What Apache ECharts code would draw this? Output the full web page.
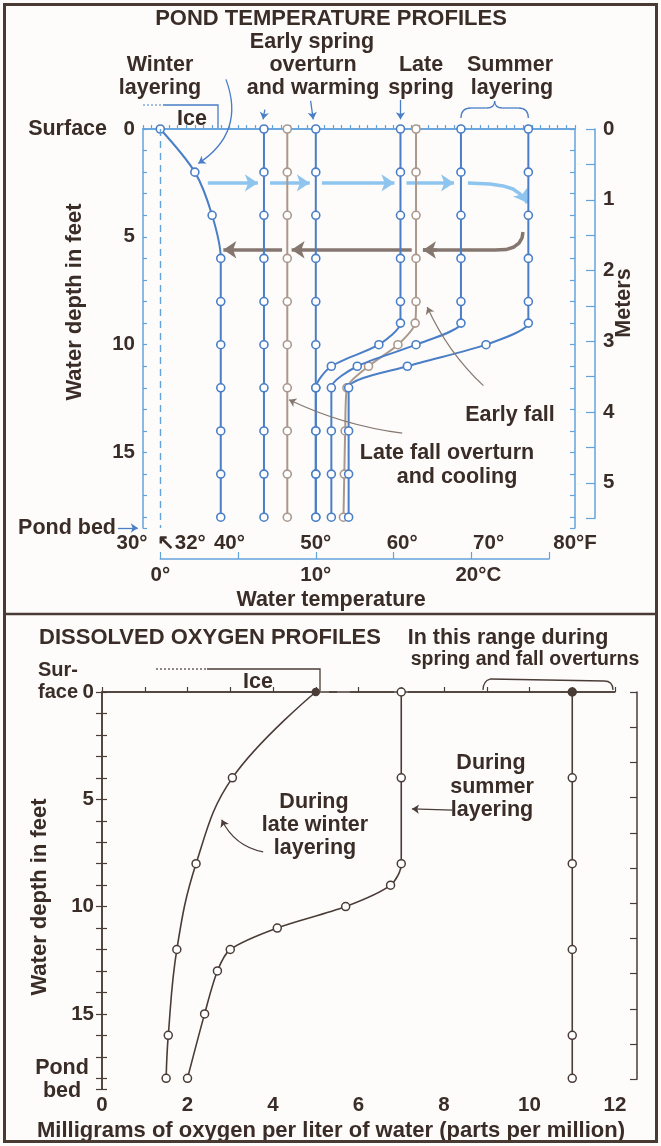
<!DOCTYPE html>
<html><head><meta charset="utf-8">
<script src="https://cdn.jsdelivr.net/npm/echarts@6.0.0/dist/echarts.min.js"></script>
<style>html,body{margin:0;padding:0;background:#fdfcfa;}#c{width:661px;height:1146px;}</style>
</head><body><div id="c"></div>
<script>
// ================= DATA =================
// Pond temperature profiles: °F at depth (feet)
const depthEvery2   = [0,2,4,6,8,10,12,14,16,18];
const depthLayered  = [0,2,4,6,8,9,10,11,12,14,16,18];
const winterLayering  = [32,36,38,39,39,39,39,39,39,39];
const earlySpringA    = [44,44,44,44,44,44,44,44,44,44];
const lateFallCooling = [46.7,46.7,46.7,46.7,46.7,46.7,46.7,46.7,46.7,46.7];
const earlySpringB    = [50,50,50,50,50,50,50,50,50,50];
const lateSpring      = [59.8,59.8,59.8,59.8,59.8,59.8,57.3,51.8,50,50,50,50];
const earlyFall       = [61.6,61.6,61.6,61.6,61.6,61.5,59.5,56.1,53.6,53.4,53.3,53.2];
const summerA         = [66.8,66.8,66.8,66.8,66.8,66.8,61.6,54.8,51.8,51.8,51.8,51.8];
const summerB         = [74.6,74.6,74.6,74.6,74.6,74.6,69.7,60.6,53.8,53.8,53.8,53.8];

// Tick labels
const fahrenheitLabels = {30:'30°', 32:'↖32°', 40:'40°', 50:'50°', 60:'60°', 70:'70°', 80:'80°F'};
const celsiusLabels    = {0:'0°', 10:'10°', 20:'20°C'};
const depthLabels      = [0,5,10,15];
const meterLabels      = [0,1,2,3,4,5];
const oxygenLabels     = [0,2,4,6,8,10,12];

// Dissolved oxygen profiles: mg/L at depth (feet)
const o2WinterDepth   = [0,4,8,12,16,18];
const o2Winter        = [5.0,3.05,2.2,1.75,1.55,1.5];
const o2SummerDepth   = [0,4,8,9,10,11,12,13,15,18];
const o2Summer        = [7.0,7.0,7.0,6.75,5.7,4.1,3.0,2.7,2.4,2.0];
const o2OverturnDepth = [0,4,8,12,16,18];
const o2Overturn      = [11,11,11,11,11,11];

// Annotation arrows, in data units [°F, ft] / [mg/L, ft]
const warmingArrows = [[[37.5,2.5],[43.3,2.5]],[[44.7,2.5],[49.3,2.5]],[[50.7,2.5],[59.1,2.5]],[[60.5,2.5],[66.0,2.5]]];
const warmingCurve  = [[67.6,2.5],[70.16,2.55],[71.67,2.64],[72.82,2.78],[73.63,3.01],[74.21,3.25],[74.48,3.42]];
const coolingArrows = [[[61.1,5.6],[47.2,5.6]],[[46.1,5.6],[39.3,5.6]]];
const coolingCurve  = [[73.98,4.78],[73.87,5.05],[73.52,5.29],[72.94,5.47],[72.01,5.59],[70.74,5.61],[64.0,5.61],[62.4,5.61]];

// ================= STYLE =================
const FF = '"Liberation Sans", Arial, Helvetica, sans-serif';
const BG = '#fdfcfa', TXT = '#3a2c27', BLUE = '#4a7ec6', AXB = '#63a3dc', GREY = '#aa988d';
const LB = '#8ec5ef', GA = '#857770', DARK = '#4a3c37', FRAME = '#4a3a34';
const FT_PER_M = 3.28084;
const TS = 20.5, AS = 21.5, HS = 22;   // tick / annotation / heading font sizes

const G0 = {left:143, top:129, width:432, height:399};
const G3 = {left:102, top:692, width:513, height:397};
const pxPerFt0 = G0.height / 18.5, pxPerF = G0.width / 50;
const pxPerFt3 = G3.height / 18.5;

const pairs = (xs, ys) => xs.map((x, i) => [x, ys[i]]);
const bold = (s) => ({color: TXT, fontFamily: FF, fontWeight: 'bold', fontSize: s});
const lastSeg = (c) => [c[c.length - 2], c[c.length - 1]];

function profile(name, temps, depths, color, extra) {
  return Object.assign({
    type: 'line', name, xAxisIndex: 0, yAxisIndex: 0, data: pairs(temps, depths),
    symbol: 'circle', symbolSize: 8, showAllSymbol: true, z: 3,
    lineStyle: {color, width: 2}, itemStyle: {color: '#fff', borderColor: color, borderWidth: 1.6},
    emphasis: {disabled: true}, silent: true
  }, extra || {});
}
function o2profile(name, vals, depths, extra) {
  return Object.assign({
    type: 'line', name, xAxisIndex: 4, yAxisIndex: 4, data: pairs(vals, depths),
    symbol: 'circle', symbolSize: 8, showAllSymbol: true, z: 3,
    lineStyle: {color: DARK, width: 1.6}, itemStyle: {color: '#fff', borderColor: DARK, borderWidth: 1.5},
    emphasis: {disabled: true}, silent: true
  }, extra || {});
}
function arrows(xi, yi, list, color, width, size, z, poly) {
  return {
    type: 'lines', coordinateSystem: 'cartesian2d', xAxisIndex: xi, yAxisIndex: yi, clip: false,
    polyline: !!poly,
    symbol: poly ? 'none' : ['none', 'arrow'], symbolSize: size, silent: true, z: z || 2,
    lineStyle: {color, width, opacity: 1, curveness: 0, join: 'round', cap: 'butt'},
    data: list.map(it => Array.isArray(it) ? {coords: it} : it)
  };
}

const chart = echarts.init(document.getElementById('c'), null, {renderer: 'canvas'});

const o2WinterSeries = o2profile('Late winter layering', o2Winter, o2WinterDepth, {smooth: 0.4});
const o2SummerSeries = o2profile('Summer layering', o2Summer, o2SummerDepth, {smooth: 0.3});
const o2OverturnSeries = o2profile('Spring and fall overturns', o2Overturn, o2OverturnDepth);
o2WinterSeries.data[0] = {value: [o2Winter[0], o2WinterDepth[0]], symbolSize: 7, itemStyle: {color: DARK}};
o2OverturnSeries.data[0] = {value: [o2Overturn[0], o2OverturnDepth[0]], symbolSize: 8, itemStyle: {color: DARK}};

const option = {
  backgroundColor: BG,
  animation: false,
  textStyle: {fontFamily: FF},
  grid: [
    Object.assign({outerBoundsMode: 'none'}, G0),
    {left: 595, top: G0.top, width: 1, height: 5.5 * FT_PER_M * pxPerFt0, outerBoundsMode: 'none'},
    {left: G0.left + 2 * pxPerF, top: 558, width: 45 * pxPerF, height: 1, outerBoundsMode: 'none'},
    Object.assign({outerBoundsMode: 'none'}, G3),
    {left: 637, top: G3.top, width: 1, height: 5.5 * FT_PER_M * pxPerFt3, outerBoundsMode: 'none'}
  ],
  xAxis: [
    { // 0 Fahrenheit
      gridIndex: 0, type: 'value', min: 30, max: 80, interval: 1, position: 'bottom',
      axisLine: {lineStyle: {color: AXB, width: 1.5}},
      axisTick: {inside: true, length: 4, lineStyle: {color: AXB, width: 1.2}},
      splitLine: {show: false},
      axisLabel: Object.assign(bold(TS), {interval: 0, margin: 5,
        formatter: v => v === 30 ? '{a|30°}' : v === 32 ? '{b|↖32°}' : (fahrenheitLabels[v] || ''),
        rich: {a: Object.assign(bold(TS), {padding: [0, 22, 0, 0]}), b: Object.assign(bold(TS), {padding: [0, 0, 0, 42]})}})
    },
    { gridIndex: 0, type: 'value', min: 30, max: 80, position: 'top',
      axisLine: {lineStyle: {color: AXB, width: 1.5}}, axisTick: {show: false}, axisLabel: {show: false}, splitLine: {show: false} },
    { gridIndex: 1, type: 'value', min: 0, max: 1, show: false },
    { // 3 Celsius
      gridIndex: 2, type: 'value', min: 0, max: 25, interval: 5, position: 'bottom',
      axisLine: {lineStyle: {color: AXB, width: 1.5}},
      axisTick: {inside: true, length: 7, lineStyle: {color: AXB, width: 1.2}},
      splitLine: {show: false},
      axisLabel: Object.assign(bold(TS), {interval: 0, margin: 6,
        formatter: v => v === 20 ? '{c|20°C}' : (celsiusLabels[v] || ''),
        rich: {c: Object.assign(bold(TS), {padding: [0, 0, 0, 14]})}})
    },
    { // 4 oxygen
      gridIndex: 3, type: 'value', min: 0, max: 12, interval: 1, position: 'bottom',
      axisLine: {lineStyle: {color: DARK, width: 1.5}},
      axisTick: {inside: true, length: 5, lineStyle: {color: DARK, width: 1.2}},
      splitLine: {show: false},
      axisLabel: Object.assign(bold(TS), {interval: 0, margin: 6,
        formatter: v => oxygenLabels.includes(v) ? String(v) : ''})
    },
    { gridIndex: 3, type: 'value', min: 0, max: 12, position: 'top',
      axisLine: {show: false}, axisTick: {show: false}, axisLabel: {show: false}, splitLine: {show: false} },
    { gridIndex: 4, type: 'value', min: 0, max: 1, show: false }
  ],
  yAxis: [
    { // 0 depth ft (top)
      gridIndex: 0, type: 'value', min: 0, max: 18.5, interval: 1, inverse: true, position: 'left',
      axisLine: {lineStyle: {color: AXB, width: 1.5}},
      axisTick: {inside: true, length: 4, lineStyle: {color: AXB, width: 1.2}},
      splitLine: {show: false},
      axisLabel: Object.assign(bold(TS), {interval: 0, margin: 8, formatter: v => depthLabels.includes(v) ? String(v) : ''})
    },
    { gridIndex: 0, type: 'value', min: 0, max: 18.5, interval: 1, inverse: true, position: 'right',
      axisLine: {lineStyle: {color: AXB, width: 1.5}},
      axisTick: {inside: true, length: 5, lineStyle: {color: AXB, width: 1.2}},
      axisLabel: {show: false}, splitLine: {show: false} },
    { // 2 meters (top)
      gridIndex: 1, type: 'value', min: 0, max: 5.5, interval: 0.5, inverse: true, position: 'left',
      axisLine: {lineStyle: {color: AXB, width: 1.5}},
      axisTick: {inside: false, length: 9, lineStyle: {color: AXB, width: 1.2}},
      splitLine: {show: false},
      axisLabel: Object.assign(bold(TS), {inside: true, interval: 0, margin: 8, formatter: v => meterLabels.includes(v) ? String(v) : ''})
    },
    { gridIndex: 2, type: 'value', min: 0, max: 1, show: false },
    { // 4 depth ft (bottom)
      gridIndex: 3, type: 'value', min: 0, max: 18.5, interval: 1, inverse: true, position: 'left',
      axisLine: {lineStyle: {color: DARK, width: 1.5}},
      axisTick: {inside: true, length: 5, lineStyle: {color: DARK, width: 1.2}},
      splitLine: {show: false},
      axisLabel: Object.assign(bold(TS), {interval: 0, margin: 8, formatter: v => depthLabels.includes(v) ? String(v) : ''})
    },
    { gridIndex: 3, type: 'value', min: 0, max: 18.5, interval: 1, inverse: true, position: 'right',
      axisLine: {lineStyle: {color: DARK, width: 1.5}},
      axisTick: {inside: true, length: 6, lineStyle: {color: DARK, width: 1.2}},
      axisLabel: {show: false}, splitLine: {show: false} },
    { gridIndex: 4, type: 'value', min: 0, max: 5.5, interval: 0.5, inverse: true, position: 'left',
      axisLine: {lineStyle: {color: DARK, width: 1.5}},
      axisTick: {inside: false, length: 7, lineStyle: {color: DARK, width: 1.2}},
      axisLabel: {show: false}, splitLine: {show: false} }
  ],
  series: [
    profile('Late fall overturn and cooling', lateFallCooling, depthEvery2, GREY, {z: 2}),
    profile('Early fall', earlyFall, depthLayered, GREY, {z: 2, smooth: 0.25}),
    profile('Winter layering', winterLayering, depthEvery2, BLUE, {smooth: 0.3,
      markLine: {silent: true, symbol: 'none', label: {show: false},
        lineStyle: {color: AXB, type: [7, 5], width: 1.4}, data: [{xAxis: 32}]}}),
    profile('Early spring overturn', earlySpringA, depthEvery2, BLUE),
    profile('Early spring warming', earlySpringB, depthEvery2, BLUE),
    profile('Late spring', lateSpring, depthLayered, BLUE, {smooth: 0.25}),
    profile('Summer layering A', summerA, depthLayered, BLUE, {smooth: 0.25}),
    profile('Summer layering B', summerB, depthLayered, BLUE, {smooth: 0.25}),
    arrows(0, 0, warmingArrows.concat([lastSeg(warmingCurve)]), LB, 3.5, 13, 1),
    arrows(0, 0, [warmingCurve], LB, 3.5, 13, 1, true),
    arrows(0, 0, coolingArrows.concat([lastSeg(coolingCurve)]), GA, 3.5, 13, 1),
    arrows(0, 0, [coolingCurve], GA, 3.5, 13, 1, true),
    arrows(0, 0, [[[44.1,-0.9],[43.9,-0.45]], [[49.4,-1.3],[49.7,-0.45]], [[59.8,-1.35],[59.8,-0.45]], [[27.1,18.5],[29.4,18.5]]], BLUE, 1.3, 7, 5),
    arrows(0, 0, [{coords: [[39.6,-2.3],[36.4,1.6]], lineStyle: {curveness: 0.4}}], BLUE, 1.3, 7, 5),
    arrows(0, 0, [{coords: [[69.4,11.9],[62.9,8.25]], lineStyle: {curveness: 0.1}},
                  {coords: [[60.0,14.1],[46.9,12.55]], lineStyle: {curveness: 0.08}}], GA, 1.2, 7, 5),
    o2WinterSeries, o2SummerSeries, o2OverturnSeries,
    arrows(4, 4, [{coords: [[3.77,7.45],[2.8,5.95]], lineStyle: {curveness: 0.25}}, [[8.2,5.5],[7.25,5.45]]], DARK, 1.2, 7, 5)
  ]
};

chart.setOption(option);

// ================= TEXT & DECORATIONS =================
const p0 = (x, y) => chart.convertToPixel({xAxisIndex: 0, yAxisIndex: 0}, [x, y]);
function T(text, x, y, o) {
  o = o || {};
  const el = {type: 'text', x, y, silent: true, z: 50, style: {
    text, fill: o.fill || TXT, font: 'bold ' + (o.size || AS) + 'px ' + FF,
    align: o.align || 'center', verticalAlign: 'middle', textAlign: o.align || 'center', textVerticalAlign: 'middle'}};
  if (o.rotation) el.rotation = o.rotation;
  return el;
}
function L(points, color, w, dash) {
  return {type: 'polyline', silent: true, z: 40, shape: {points}, style: {stroke: color, lineWidth: w || 1.3, fill: null, lineDash: dash || null}};
}
function Q(x1, y1, cx, cy, x2, y2, color) {
  return {type: 'bezierCurve', silent: true, z: 40, shape: {x1, y1, x2, y2, cpx1: cx, cpy1: cy}, style: {stroke: color, lineWidth: 1.3, fill: null}};
}
let sx1 = 462, sx2 = 530;
try { sx1 = p0(summerA[0], 0)[0]; sx2 = p0(summerB[0], 0)[0]; } catch (e) {}
const sm = (sx1 + sx2) / 2;
const yS = G3.top;
const graphics = [
  {type: 'rect', silent: true, z: 60, shape: {x: 4.5, y: 4.5, width: 652, height: 1137}, style: {fill: null, stroke: FRAME, lineWidth: 3}},
  L([[4, 614], [657, 614]], FRAME, 2.5),
  T('POND TEMPERATURE PROFILES', 331, 19, {size: HS}),
  T('Early spring', 312, 42), T('overturn', 313, 65), T('and warming', 313, 88),
  T('Winter', 160, 65), T('layering', 160, 88),
  T('Late', 421, 65), T('spring', 421, 88),
  T('Summer', 510, 65), T('layering', 512, 88),
  T('Ice', 192, 119),
  T('Surface', 107, 129, {align: 'right'}),
  T('Pond bed', 116, 528, {align: 'right'}),
  T('Water depth in feet', 75, 302, {rotation: Math.PI / 2, size: HS}),
  T('Meters', 624, 303, {rotation: Math.PI / 2}),
  T('Water temperature', 331, 600),
  T('Early fall', 510, 415),
  T('Late fall overturn', 447, 453), T('and cooling', 457, 477),
  L([[143, 105], [163, 105]], BLUE, 1.2, [2, 2]),
  L([[163, 105], [218, 105], [218, 128]], BLUE, 1.3),
  Q(sx1, 118, sx1, 108, sx1 + 10, 108, BLUE), L([[sx1 + 10, 108], [sm - 8, 108]], BLUE),
  Q(sm - 8, 108, sm, 108, sm, 101, BLUE), Q(sm, 101, sm, 108, sm + 8, 108, BLUE),
  L([[sm + 8, 108], [sx2 - 10, 108]], BLUE), Q(sx2 - 10, 108, sx2, 108, sx2, 118, BLUE),
  T('DISSOLVED OXYGEN PROFILES', 210, 638, {size: HS}),
  T('In this range during', 508, 638), T('spring and fall overturns', 525, 660, {size: 19.5}),
  T('Sur-', 38, 670, {align: 'left', size: 20}), T('face', 38, 692, {align: 'left', size: 20}),
  T('Ice', 258, 682),
  T('During', 314, 802), T('late winter', 315, 825), T('layering', 315, 848),
  T('During', 491, 763), T('summer', 492, 787), T('layering', 492, 810),
  T('Water depth in feet', 40, 897, {rotation: Math.PI / 2, size: HS}),
  T('Pond', 62, 1068), T('bed', 62, 1091),
  T('Milligrams of oxygen per liter of water (parts per million)', 331, 1131, {size: HS}),
  L([[102, yS], [316, yS]], DARK, 1.5), L([[329, yS], [337, yS]], DARK, 1.5),
  L([[350, yS], [394, yS]], DARK, 1.5), L([[408, yS], [615, yS]], DARK, 1.5),
  L([[156, 669], [207, 669]], DARK, 1.2, [2, 2]),
  L([[207, 669], [320, 669], [320, 691]], DARK, 1.3),
  Q(483, 690, 483, 681, 490, 679, DARK), L([[490, 679], [604, 681]], DARK),
  Q(604, 681, 613, 681, 613, 690, DARK)
];
chart.setOption({graphic: graphics});
</script>
</body></html>
